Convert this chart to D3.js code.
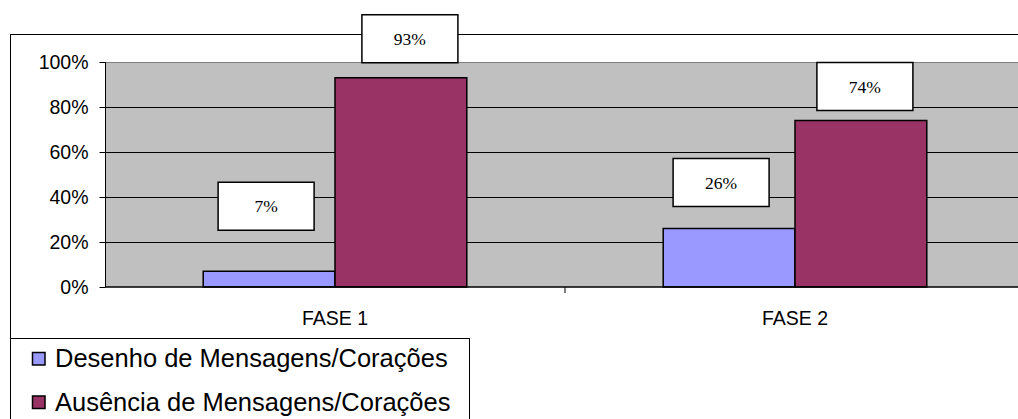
<!DOCTYPE html>
<html>
<head>
<meta charset="utf-8">
<script src="https://cdn.jsdelivr.net/npm/d3@7"></script>
<style>
  html, body { margin: 0; padding: 0; background: #fff; }
  svg { display: block; }
</style>
</head>
<body>
<svg id="chart" width="1018" height="419"></svg>
<script>
// Chart data
const categories = ["FASE 1", "FASE 2"];
const seriesNames = ["Desenho de Mensagens/Corações", "Ausência de Mensagens/Corações"];
const desenhoValues = [0.07, 0.26];
const ausenciaValues = [0.93, 0.74];
const yTickValues = [0, 0.2, 0.4, 0.6, 0.8, 1.0];
const yTickLabels = ["0%", "20%", "40%", "60%", "80%", "100%"];

const seriesColors = ["#9999FF", "#993366"];

// Data-label box placement: [dx from bar centre, box-centre dy from bar top]
const labelPlacement = [
  [[-3, -65], [9, -39]],
  [[-8, -46], [4, -34]]
];

const svg = d3.select("#chart");

// Outer chart frame
svg.append("rect")
  .attr("x", 10.5).attr("y", 34.5)
  .attr("width", 1030).attr("height", 400)
  .attr("fill", "#fff").attr("stroke", "#000").attr("stroke-width", 1);

const plot = { left: 105, right: 1025, top: 62, bottom: 287 };

const x = d3.scaleBand()
  .domain(categories)
  .range([plot.left, plot.right])
  .paddingInner(0.427)
  .paddingOuter(0.2135);

const xs = d3.scaleBand()
  .domain(seriesNames)
  .range([0, x.bandwidth()])
  .padding(0);

const y = d3.scaleLinear().domain([0, 1]).range([plot.bottom, plot.top]);

// Plot area background
svg.append("rect")
  .attr("x", plot.left).attr("y", plot.top)
  .attr("width", plot.right - plot.left + 10).attr("height", plot.bottom - plot.top)
  .attr("fill", "#C0C0C0");

// Top edge of the plot area
svg.append("line")
  .attr("x1", plot.left).attr("x2", plot.right + 10)
  .attr("y1", plot.top + 0.5).attr("y2", plot.top + 0.5)
  .attr("stroke", "#808080").attr("stroke-width", 1);

// Gridlines
svg.append("g")
  .selectAll("line")
  .data(yTickValues.filter(v => v > 0 && v < 1))
  .join("line")
  .attr("x1", plot.left).attr("x2", plot.right + 10)
  .attr("y1", d => Math.round(y(d)) + 0.5)
  .attr("y2", d => Math.round(y(d)) + 0.5)
  .attr("stroke", "#000").attr("stroke-width", 1);

// Y axis
const yAxis = d3.axisLeft(y)
  .tickValues(yTickValues)
  .tickFormat((d, i) => yTickLabels[i])
  .tickSize(6)
  .tickPadding(11);

const gy = svg.append("g")
  .attr("transform", `translate(${plot.left + 0.5},0)`)
  .call(yAxis);
gy.select(".domain").attr("stroke", "#000").attr("d", `M0,${plot.top}V${plot.bottom}`);
gy.selectAll(".tick line").attr("stroke", "#000");
gy.selectAll(".tick text")
  .attr("font-family", "Liberation Sans, Arial, sans-serif")
  .attr("font-size", 19.5)
  .attr("fill", "#000");

// Bars
const rows = categories.map((c, i) => ({
  cat: c,
  values: [desenhoValues[i], ausenciaValues[i]],
  idx: i
}));

const groups = svg.append("g")
  .selectAll("g")
  .data(rows)
  .join("g")
  .attr("transform", d => `translate(${x(d.cat)},0)`);

groups.selectAll("rect")
  .data(d => d.values.map((v, j) => ({ v, j, name: seriesNames[j] })))
  .join("rect")
  .attr("x", d => xs(d.name))
  .attr("y", d => y(d.v))
  .attr("width", xs.bandwidth())
  .attr("height", d => y(0) - y(d.v))
  .attr("fill", d => seriesColors[d.j])
  .attr("stroke", "#000")
  .attr("stroke-width", 1.5);

// X axis
const xAxis = d3.axisBottom(x).tickSize(0).tickPadding(24);
const gx = svg.append("g")
  .attr("transform", `translate(0,${plot.bottom})`)
  .call(xAxis);
gx.select(".domain").attr("stroke", "#000").attr("stroke-width", 1.5)
  .attr("d", `M${plot.left},0H${plot.right + 10}`);
gx.selectAll(".tick text")
  .attr("font-family", "Liberation Sans, Arial, sans-serif")
  .attr("font-size", 19.5)
  .attr("fill", "#000");

// Category separator ticks
svg.append("g")
  .selectAll("line")
  .data(categories.slice(1))
  .join("line")
  .attr("x1", d => x(d) - x.step() * x.paddingInner() / 2)
  .attr("x2", d => x(d) - x.step() * x.paddingInner() / 2)
  .attr("y1", plot.bottom)
  .attr("y2", plot.bottom + 6)
  .attr("stroke", "#000");

// Data labels in boxed callouts
const boxW = 96, boxH = 48;
rows.forEach((r, i) => {
  r.values.forEach((v, j) => {
    const cx = x(r.cat) + xs(seriesNames[j]) + xs.bandwidth() / 2 + labelPlacement[i][j][0];
    const cy = y(v) + labelPlacement[i][j][1];
    const g = svg.append("g").attr("transform", `translate(${cx},${cy})`);
    g.append("rect")
      .attr("x", -boxW / 2).attr("y", -boxH / 2)
      .attr("width", boxW).attr("height", boxH)
      .attr("fill", "#fff").attr("stroke", "#000").attr("stroke-width", 1.5);
    g.append("text")
      .attr("text-anchor", "middle")
      .attr("dy", "0.35em")
      .attr("font-family", "Liberation Serif, Times New Roman, serif")
      .attr("font-size", 17.5)
      .attr("fill", "#000")
      .text(d3.format(".0%")(v));
  });
});

// Legend
const legend = svg.append("g");
legend.append("rect")
  .attr("x", 10.5).attr("y", 338.5)
  .attr("width", 459).attr("height", 100)
  .attr("fill", "#fff").attr("stroke", "#000").attr("stroke-width", 1);

const items = legend.selectAll("g.item")
  .data(seriesNames)
  .join("g")
  .attr("class", "item")
  .attr("transform", (d, i) => `translate(0,${358.5 + i * 43.5})`);

items.append("rect")
  .attr("x", 32.5).attr("y", -6)
  .attr("width", 12.5).attr("height", 12.5)
  .attr("fill", (d, i) => seriesColors[i])
  .attr("stroke", "#000").attr("stroke-width", 1.5);

items.append("text")
  .attr("x", 55)
  .attr("y", 0)
  .attr("dy", "0.35em")
  .attr("font-family", "Liberation Sans, Arial, sans-serif")
  .attr("font-size", 25.5)
  .attr("fill", "#000")
  .text(d => d);
</script>
</body>
</html>
